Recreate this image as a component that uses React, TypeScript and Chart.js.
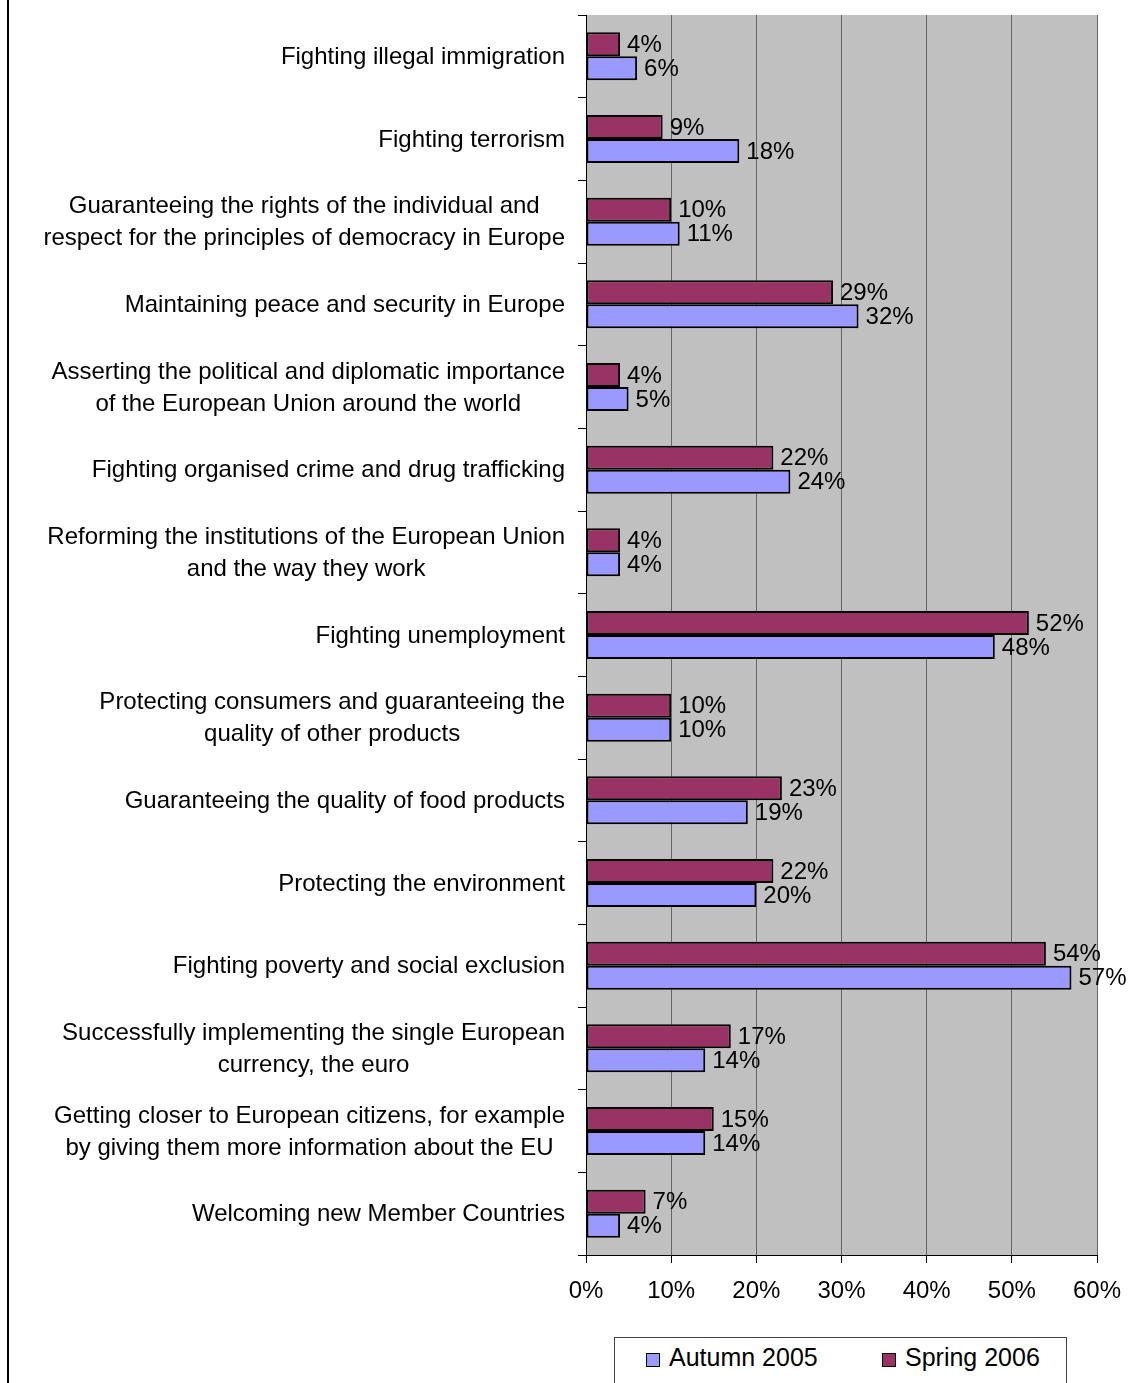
import React, { useEffect, useRef } from 'react';
import { Chart, registerables } from 'chart.js';

Chart.register(...registerables);

const categories: (string | string[])[] = [
  'Fighting illegal immigration',
  'Fighting terrorism',
  ['Guaranteeing the rights of the individual and', 'respect for the principles of democracy in Europe'],
  'Maintaining peace and security in Europe',
  ['Asserting the political and diplomatic importance', 'of the European Union around the world'],
  'Fighting organised crime and drug trafficking',
  ['Reforming the institutions of the European Union', 'and the way they work'],
  'Fighting unemployment',
  ['Protecting consumers and guaranteeing the', 'quality of other products'],
  'Guaranteeing the quality of food products',
  'Protecting the environment',
  'Fighting poverty and social exclusion',
  ['Successfully implementing the single European', 'currency, the euro'],
  ['Getting closer to European citizens, for example', 'by giving them more information about the EU'],
  'Welcoming new Member Countries',
];

const autumn2005 = [6, 18, 11, 32, 5, 24, 4, 48, 10, 19, 20, 57, 14, 14, 4];
const spring2006 = [4, 9, 10, 29, 4, 22, 4, 52, 10, 23, 22, 54, 17, 15, 7];
const xTicks = [0, 10, 20, 30, 40, 50, 60];

const FONT = '"Liberation Sans", Arial, sans-serif';
const MAROON = '#993366';
const LAVENDER = '#9999FF';

const bgPlugin = {
  id: 'bgPlugin',
  beforeDraw(chart: any) {
    const { ctx, chartArea } = chart;
    ctx.save();
    ctx.fillStyle = '#C0C0C0';
    ctx.fillRect(chartArea.left, chartArea.top, chartArea.right - chartArea.left, chartArea.bottom - chartArea.top);
    ctx.restore();
  },
};

const catLabelPlugin = {
  id: 'catLabelPlugin',
  afterDraw(chart: any) {
    const { ctx, chartArea } = chart;
    const yScale = chart.scales.y;
    ctx.save();
    ctx.font = `24px ${FONT}`;
    ctx.fillStyle = '#000';
    ctx.textAlign = 'center';
    ctx.textBaseline = 'middle';
    const lineH = 32;
    categories.forEach((c, i) => {
      const lines = Array.isArray(c) ? c : [c];
      const maxW = Math.max(...lines.map((l) => ctx.measureText(l).width));
      const cx = chartArea.left - 21 - maxW / 2;
      const cy = yScale.getPixelForValue(i);
      const y0 = cy - ((lines.length - 1) * lineH) / 2;
      lines.forEach((l, j) => ctx.fillText(l, cx, y0 + j * lineH + 1));
    });
    ctx.restore();
  },
};

const valueLabelPlugin = {
  id: 'valueLabelPlugin',
  afterDatasetsDraw(chart: any) {
    const { ctx } = chart;
    ctx.save();
    ctx.font = `24px ${FONT}`;
    ctx.fillStyle = '#000';
    ctx.textAlign = 'left';
    ctx.textBaseline = 'middle';
    chart.data.datasets.forEach((ds: any, di: number) => {
      const meta = chart.getDatasetMeta(di);
      meta.data.forEach((el: any, i: number) => {
        ctx.fillText(`${ds.data[i]}%`, el.x + 7, el.y + 1);
      });
    });
    ctx.restore();
  },
};

export default function App() {
  const ref = useRef<HTMLCanvasElement | null>(null);

  useEffect(() => {
    if (!ref.current) return;
    const chart = new Chart(ref.current, {
      type: 'bar',
      data: {
        labels: categories as any,
        datasets: [
          {
            label: 'Spring 2006',
            data: spring2006,
            backgroundColor: MAROON,
            borderColor: '#000',
            borderWidth: 2,
            borderSkipped: false,
            barPercentage: 1,
            categoryPercentage: 0.58,
          },
          {
            label: 'Autumn 2005',
            data: autumn2005,
            backgroundColor: LAVENDER,
            borderColor: '#000',
            borderWidth: 2,
            borderSkipped: false,
            barPercentage: 1,
            categoryPercentage: 0.58,
          },
        ],
      },
      options: {
        indexAxis: 'y',
        responsive: true,
        maintainAspectRatio: false,
        animation: false,
        layout: { padding: { top: 15, right: 32, left: 0, bottom: 0 } },
        plugins: {
          legend: { display: false },
          tooltip: { enabled: false },
        },
        scales: {
          x: {
            min: xTicks[0],
            max: xTicks[xTicks.length - 1],
            ticks: {
              stepSize: xTicks[1] - xTicks[0],
              callback: (v: any) => `${v}%`,
              font: { family: FONT, size: 24, lineHeight: 2.1 },
              color: '#000',
              padding: 3,
            },
            grid: { color: '#666', tickColor: '#000', tickLength: 8, lineWidth: 1 },
            border: { color: '#000', width: 1 },
            afterFit: (s: any) => {
              s.height = 128;
            },
          },
          y: {
            ticks: { display: false },
            grid: { drawOnChartArea: false, tickLength: 8, color: '#000', offset: true },
            border: { color: '#000', width: 1 },
            afterFit: (s: any) => {
              s.width = 586;
            },
          },
        },
      } as any,
      plugins: [bgPlugin, catLabelPlugin, valueLabelPlugin],
    });
    return () => chart.destroy();
  }, []);

  const legendText: React.CSSProperties = {
    position: 'absolute',
    top: 1342,
    fontFamily: FONT,
    fontSize: 25,
    lineHeight: '30px',
    color: '#000',
    whiteSpace: 'nowrap',
  };
  const swatch = (left: number, color: string): React.CSSProperties => ({
    position: 'absolute',
    left,
    top: 1353,
    width: 12,
    height: 12,
    background: color,
    border: '1px solid #000',
  });

  return (
    <div style={{ position: 'absolute', left: 0, top: 0, width: 1129, height: 1383, overflow: 'hidden', background: '#fff' }}>
      <div style={{ position: 'absolute', left: 0, top: 0, width: 1129, height: 1383 }}>
        <canvas ref={ref} />
      </div>
      <div style={{ position: 'absolute', left: 7, top: 0, width: 2, height: 1383, background: '#000' }} />
      <div
        style={{
          position: 'absolute',
          left: 614,
          top: 1337,
          width: 451,
          height: 60,
          border: '1px solid #444',
          background: '#fff',
        }}
      />
      <div style={swatch(646, LAVENDER)} />
      <div style={{ ...legendText, left: 669 }}>Autumn 2005</div>
      <div style={swatch(882, MAROON)} />
      <div style={{ ...legendText, left: 905 }}>Spring 2006</div>
    </div>
  );
}
